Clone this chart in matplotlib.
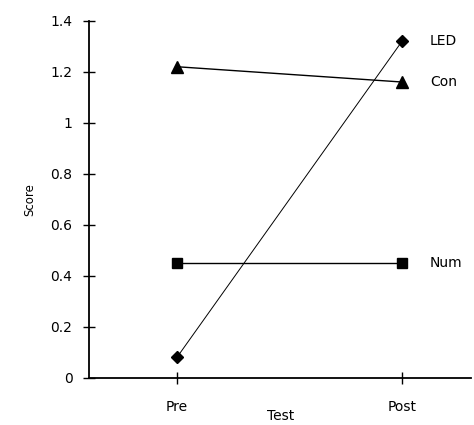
import numpy as np
from matplotlib import pyplot as plt

tests = ['Pre', 'Post']
led = [0.08, 1.32]
con = [1.22, 1.16]
num = [0.45, 0.45]
series_names = ['LED', 'Con', 'Num']

x = np.arange(len(tests))

fig = plt.figure(figsize=(4.74, 4.25), dpi=100)
ax = fig.add_axes([0.188, 0.111, 0.806, 0.84])

ax.plot(x, led, color='k', lw=0.7, marker='D', ms=6.5)
ax.plot(x, con, color='k', lw=1.0, marker='^', ms=8.5)
ax.plot(x, num, color='k', lw=1.0, marker='s', ms=7.5)

# series labels to the right of the last point
for name, vals in zip(series_names, [led, con, num]):
    ax.annotate(name, (x[-1], vals[-1]), xytext=(20, 0), textcoords='offset points',
                va='center', ha='left', fontsize=10)

ax.set_xlim(-0.39, 1.307)
ax.set_ylim(0, 1.4)
ax.set_xticks(x)
ax.set_xticklabels(tests)
ax.set_yticks([0, 0.2, 0.4, 0.6, 0.8, 1, 1.2, 1.4])
ax.set_yticklabels(['0', '0.2', '0.4', '0.6', '0.8', '1', '1.2', '1.4'])
ax.tick_params(direction='inout', length=8, width=1, labelsize=10)
ax.tick_params(axis='y', pad=8)
ax.tick_params(axis='x', pad=12)

for s in ['top', 'right']:
    ax.spines[s].set_visible(False)
for s in ['left', 'bottom']:
    ax.spines[s].set_linewidth(1.3)

ax.set_ylabel('Score', fontsize=8.5, labelpad=10)
ax.set_xlabel('Test', fontsize=10, labelpad=-3.5)

plt.savefig('out.png', dpi=100)
